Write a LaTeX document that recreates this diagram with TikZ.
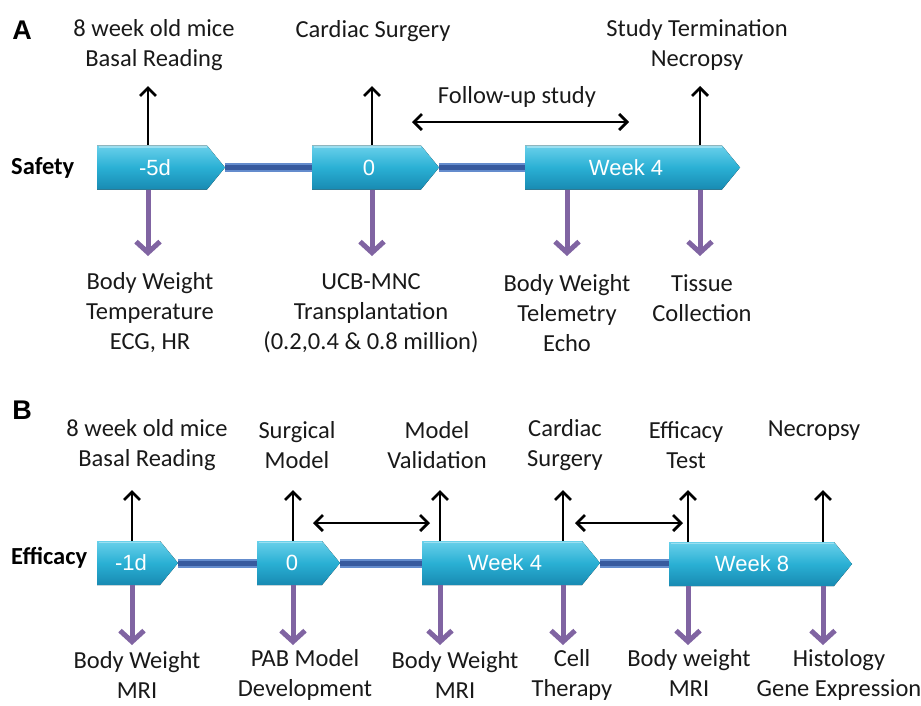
\documentclass[tikz,border=0pt]{standalone}
\usepackage{fontspec}
\setmainfont{Carlito}
\newfontfamily\arialf{Liberation Sans}
\usetikzlibrary{arrows.meta,backgrounds}
\definecolor{boxtop}{RGB}{105,208,234}
\definecolor{boxmid}{RGB}{42,176,212}
\definecolor{boxbot}{RGB}{24,138,178}
\definecolor{barout}{RGB}{100,140,205}
\definecolor{barin}{RGB}{55,90,158}
\definecolor{purp}{RGB}{128,100,162}
\definecolor{txt}{RGB}{25,25,25}
% name, left x, tip x, centre y, text, text x
\newcommand\tlbox[6]{%
  \fill[top color=boxtop, bottom color=boxbot, middle color=boxmid]
    (#2,#4-22) -- (#3-18,#4-22) -- (#3,#4) -- (#3-18,#4+22) -- (#2,#4+22) -- cycle;
  \draw[white, opacity=0.35, line width=1.4pt] (#2+1.5,#4-20.5) -- (#3-18.5,#4-20.5);
  \node[boxtxt] (#1) at (#6,#4) {#5};
  \coordinate (#1-l) at (#2,#4);
  \coordinate (#1-r) at (#3,#4);
}
\begin{document}
\begin{tikzpicture}[x=1pt,y=-1pt,
  boxtxt/.style={text=white, font=\arialf\fontsize{22}{24}\selectfont, inner sep=0pt},
  lbl/.style={align=center, text=txt, font=\fontsize{24.5}{30}\selectfont, inner sep=0pt},
  hdr/.style={text=black, font=\arialf\bfseries\fontsize{27}{30}\selectfont, inner sep=0pt},
  rowlbl/.style={text=black, font=\bfseries\fontsize{24.5}{28}\selectfont, inner sep=0pt, anchor=west},
  blk/.style={draw=black, line width=2.8pt, -{Straight Barb[length=8pt,width=16pt]}},
  dblarr/.style={draw=black, line width=2.8pt, {Straight Barb[length=8pt,width=16pt]}-{Straight Barb[length=8pt,width=16pt]}},
  pur/.style={draw=purp, line width=5pt, -{Straight Barb[length=11pt,width=24pt]}},
  barA/.style={draw=barout, line width=9pt},
  barB/.style={draw=barin, line width=5pt}]
\useasboundingbox (0,0) rectangle (921,705);

% ---------- Panel A ----------
\node[hdr] (A) at (22,30) {A};
\node[rowlbl] (safety) at (11,168) {Safety};

\tlbox{a1}{97}{225}{167.5}{-5d}{155}
\tlbox{a2}{312}{439}{167.5}{0}{369}
\tlbox{a3}{525}{740}{167.5}{Week 4}{626}

\begin{scope}[on background layer]
  \foreach \p/\q in {a1/a2,a2/a3}{
    \draw[barA] (\p-r) -- (\q-l);
    \draw[barB] (\p-r) -- (\q-l);
  }
\end{scope}

\node[lbl] (tA1) at (154,45) {8 week old mice\\Basal Reading};
\node[lbl] (tA2) at (373,31) {Cardiac Surgery};
\node[lbl] (tA3) at (697,45) {Study Termination\\Necropsy};
\node[lbl] (fu) at (517,97) {Follow-up study};

\node[lbl] (bA1) at (150,313) {Body Weight\\Temperature\\ECG, HR};
\node[lbl] (bA2) at (371,313) {UCB-MNC\\Transplantation\\(0.2,0.4 \& 0.8 million)};
\node[lbl] (bA3) at (567,313) {Body Weight\\Telemetry\\Echo};
\node[lbl] (bA4) at (702,298) {Tissue\\Collection};

\foreach \x [count=\i] in {148,372,700}{
  \coordinate (ua\i s) at (\x,145);
  \coordinate (ua\i e) at (\x,86);
  \draw[blk] (ua\i s) -- (ua\i e);
}
\foreach \x [count=\i] in {148,372,567,700}{
  \coordinate (da\i s) at (\x,190);
  \coordinate (da\i e) at (\x,256);
  \draw[pur] (da\i s) -- (da\i e);
}
\coordinate (fuL) at (412,122);
\coordinate (fuR) at (629,122);
\draw[dblarr] (fuL) -- (fuR);

% ---------- Panel B ----------
\node[hdr] (B) at (22,410) {B};
\node[rowlbl] (efficacy) at (11,558) {Efficacy};

\tlbox{b1}{97}{178}{563}{-1d}{131}
\tlbox{b2}{257}{340}{563}{0}{292}
\tlbox{b3}{422}{600}{563}{Week 4}{505}
\tlbox{b4}{669}{852}{564}{Week 8}{752}

\begin{scope}[on background layer]
  \foreach \p/\q in {b1/b2,b2/b3}{
    \draw[barA] (\p-r) -- (\q-l);
    \draw[barB] (\p-r) -- (\q-l);
  }
  \draw[barA] (b3-r) -- (b3-r -| b4-l);
  \draw[barB] (b3-r) -- (b3-r -| b4-l);
\end{scope}

\node[lbl] (tB1) at (147,445) {8 week old mice\\Basal Reading};
\node[lbl] (tB2) at (297,445) {Surgical\\Model};
\node[lbl] (tB3) at (437,445) {Model\\Validation};
\node[lbl] (tB4) at (565,445) {Cardiac\\Surgery};
\node[lbl] (tB5) at (686,445) {Efficacy\\Test};
\node[lbl] (tB6) at (814,431) {Necropsy};

\node[lbl] (bB1) at (137,675) {Body Weight\\MRI};
\node[lbl] (bB2) at (305,675) {PAB Model\\Development};
\node[lbl] (bB3) at (455,675) {Body Weight\\MRI};
\node[lbl] (bB4) at (572,675) {Cell\\Therapy};
\node[lbl] (bB5) at (689,673) {Body weight\\MRI};
\node[lbl] (bB6) at (839,675) {Histology\\Gene Expression};

\foreach \x/\t [count=\i] in {132/541,293/541,440/541,563/541,688/542,823/542}{
  \coordinate (ub\i s) at (\x,\t);
  \coordinate (ub\i e) at (\x,490);
  \draw[blk] (ub\i s) -- (ub\i e);
}
\foreach \x/\t [count=\i] in {132/585,293/585,440/585,563/585,688/586,823/586}{
  \coordinate (db\i s) at (\x,\t);
  \coordinate (db\i e) at (\x,645);
  \draw[pur] (db\i s) -- (db\i e);
}
\coordinate (m1L) at (313,523);
\coordinate (m1R) at (430,523);
\draw[dblarr] (m1L) -- (m1R);
\coordinate (m2L) at (575,523);
\coordinate (m2R) at (683,523);
\draw[dblarr] (m2L) -- (m2R);
\end{tikzpicture}
\end{document}
